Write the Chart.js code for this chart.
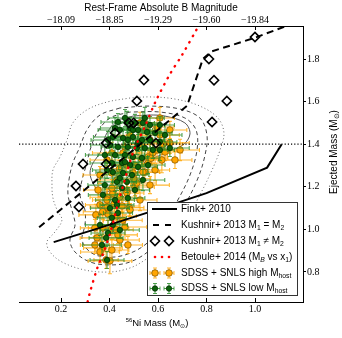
<!DOCTYPE html>
<html><head><meta charset="utf-8">
<script src="https://cdn.jsdelivr.net/npm/chart.js@4.4.1/dist/chart.umd.min.js"></script>
<style>html,body{margin:0;padding:0;background:#fff;}#wrap{width:342px;height:338px;}</style>
</head><body><div id="wrap"><canvas id="c" width="342" height="338"></canvas></div>
<script>
// ---- axis ticks / labels ----
const niTicks = [0.2, 0.4, 0.6, 0.8, 1.0];
const magTickLabels = ['\u221218.09', '\u221218.85', '\u221219.29', '\u221219.60', '\u221219.84'];
const massTicks = [0.8, 1.0, 1.2, 1.4, 1.6, 1.8];
const chandraMass = 1.4;

// ---- model curves ----
const finkNi  = [0.17, 0.34, 0.56, 0.80, 1.05, 1.11];
const finkMej = [0.94, 1.00, 1.08, 1.17, 1.29, 1.40];

const kushEqNi  = [0.11, 0.72, 0.785, 0.82, 1.00, 1.20];
const kushEqMej = [1.01, 1.58, 1.80, 1.835, 1.90, 1.985];

const kushNeqNi  = [0.542, 0.513, 0.810, 0.831, 0.884, 1.000, 0.823, 0.480, 0.500, 0.423, 0.386, 0.592, 0.291, 0.386, 0.262, 0.274];
const kushNeqMej = [1.701, 1.603, 1.800, 1.700, 1.603, 1.903, 1.504, 1.500, 1.500, 1.453, 1.405, 1.405, 1.307, 1.307, 1.204, 1.105];

const betouleNi  = [0.31, 0.32, 0.35, 0.375, 0.405, 0.435, 0.46, 0.50, 0.545, 0.59, 0.65, 0.70, 0.76, 0.78];
const betouleMej = [0.66, 0.706, 0.819, 0.89, 0.99, 1.12, 1.22, 1.37, 1.48, 1.60, 1.73, 1.82, 1.94, 1.98];

// ---- contours of the reconstructed distribution ----
const cOuterNi  = [0.485,0.390,0.307,0.249,0.225,0.196,0.167,0.163,0.167,0.184,0.204,0.175,0.142,0.155,0.204,0.299,0.402,0.485,0.546,0.629,0.711,0.773,0.823,0.856,0.872,0.847,0.773,0.670,0.567];
const cOuterMej = [1.617,1.598,1.561,1.500,1.420,1.340,1.279,1.208,1.147,1.091,1.044,0.988,0.941,0.894,0.847,0.809,0.800,0.819,0.856,0.927,1.035,1.162,1.279,1.373,1.453,1.523,1.579,1.612,1.622];
const cDash2Ni  = [0.443,0.361,0.307,0.278,0.249,0.233,0.229,0.245,0.258,0.237,0.258,0.320,0.402,0.485,0.567,0.649,0.711,0.765,0.794,0.802,0.773,0.691,0.567];
const cDash2Mej = [1.570,1.537,1.467,1.387,1.312,1.232,1.162,1.091,1.021,0.950,0.894,0.847,0.833,0.847,0.903,1.007,1.115,1.241,1.349,1.443,1.523,1.565,1.579];
const cDash1Ni  = [0.485,0.402,0.348,0.320,0.307,0.287,0.278,0.299,0.299,0.287,0.320,0.381,0.464,0.546,0.621,0.682,0.732,0.761,0.757,0.711,0.608];
const cDash1Mej = [1.551,1.523,1.453,1.373,1.312,1.232,1.162,1.091,1.021,0.950,0.894,0.870,0.880,0.927,1.021,1.138,1.255,1.373,1.467,1.523,1.551];
const cInnerNi  = [0.497,0.431,0.390,0.373,0.361,0.332,0.320,0.332,0.361,0.410,0.464,0.526,0.629,0.703,0.732,0.711,0.629,0.567];
const cInnerMej = [1.532,1.509,1.453,1.406,1.359,1.312,1.265,1.218,1.176,1.185,1.232,1.302,1.359,1.396,1.448,1.500,1.532,1.537];

// ---- SDSS + SNLS, high host mass ----
const highNi  = [0.390,0.394,0.431,0.452,0.472,0.505,0.410,0.464,0.373,0.349,0.340,0.373,0.361,0.386,0.402,0.390,0.414,0.410,0.513,0.546,0.559,0.559,0.579,0.596,0.390,0.431,0.410,0.390,0.410,0.464,0.497,0.472,0.649,0.629,0.616,0.538,0.505,0.596,0.526,0.456,0.608,0.567,0.420,0.442,0.372,0.482,0.428,0.455,0.500,0.532,0.470,0.441,0.522,0.571,0.622,0.484,0.551,
                 0.361,0.344,0.443,0.340,0.485,0.526,0.567,0.588,0.670,0.691,0.649,0.608,0.361,0.353,0.435,0.410,0.476];
const highMej = [1.151,1.072,1.063,1.110,1.180,1.199,1.002,1.011,1.006,0.960,0.927,0.913,0.894,0.856,0.852,1.105,1.170,1.194,1.218,1.269,1.312,1.340,1.359,1.373,1.138,1.232,1.265,1.326,1.359,1.387,1.265,1.171,1.406,1.363,1.326,1.269,1.302,1.481,1.500,1.359,1.443,1.420,1.121,1.152,1.083,1.102,0.998,1.043,1.238,1.331,1.302,1.284,1.398,1.334,1.401,1.442,1.463,
                 1.115,1.068,0.950,1.007,1.091,1.138,1.208,1.279,1.326,1.373,1.467,1.523,1.255,1.185,0.974,0.903,0.927];
const highErrNi  = [0.07,0.06,0.08,0.07,0.05,0.08,0.07,0.09,0.06,0.07,0.06,0.08,0.08,0.05,0.09,0.07,0.06,0.07,0.08,0.06,0.06,0.08,0.07,0.09,0.06,0.07,0.05,0.07,0.08,0.07,0.06,0.07,0.08,0.07,0.06,0.07,0.09,0.07,0.06,0.07,0.08,0.07,0.06,0.07,0.08,0.06,0.07,0.08,0.07,0.05,0.07,0.08,0.06,0.07,0.08,0.07,0.06,
                    0.06,0.07,0.08,0.06,0.09,0.07,0.08,0.06,0.07,0.08,0.07,0.06,0.07,0.06,0.08,0.07,0.06];
const highErrMej = [0.04,0.05,0.04,0.03,0.05,0.04,0.05,0.06,0.04,0.05,0.04,0.03,0.05,0.04,0.06,0.04,0.05,0.04,0.05,0.04,0.03,0.04,0.05,0.04,0.05,0.04,0.05,0.03,0.05,0.04,0.05,0.04,0.05,0.04,0.06,0.04,0.05,0.04,0.05,0.04,0.05,0.04,0.05,0.04,0.03,0.04,0.05,0.04,0.05,0.04,0.05,0.04,0.05,0.03,0.05,0.04,0.05,
                    0.04,0.05,0.05,0.04,0.03,0.05,0.04,0.05,0.04,0.05,0.04,0.05,0.04,0.05,0.04,0.05,0.04];

// ---- SDSS + SNLS, low host mass ----
const lowNi  = [0.435,0.472,0.505,0.538,0.567,0.443,0.485,0.518,0.555,0.588,0.414,0.456,0.497,0.534,0.567,0.608,0.402,0.435,0.476,0.513,0.546,0.579,0.423,0.464,0.497,0.534,0.410,0.452,0.485,0.518,0.414,0.456,0.493,0.431,0.472,0.452,0.373,0.402,0.431,0.414,0.394,0.369,0.390,0.435,
                0.464,0.546,0.608,0.629,0.649,0.608,0.559,0.538,0.505,0.476,0.423,0.381,0.390,0.381,0.394,0.423,0.497,0.476,0.518,0.464,0.443,0.410,0.386,0.361,0.443];
const lowMej = [1.504,1.504,1.500,1.500,1.490,1.467,1.476,1.467,1.457,1.453,1.434,1.429,1.434,1.420,1.420,1.410,1.396,1.387,1.387,1.382,1.382,1.373,1.349,1.349,1.340,1.335,1.312,1.312,1.302,1.293,1.269,1.265,1.255,1.223,1.223,1.194,1.162,1.100,1.115,1.021,0.983,0.927,0.856,1.077,
                1.523,1.523,1.490,1.443,1.382,1.373,1.302,1.232,1.185,1.147,1.138,1.208,1.279,1.349,1.420,1.476,1.467,1.420,1.406,1.316,1.241,1.054,0.960,1.021,0.997];
const lowErrNi  = [0.07,0.06,0.08,0.07,0.06,0.09,0.07,0.06,0.08,0.07,0.08,0.06,0.07,0.09,0.06,0.07,0.08,0.07,0.06,0.07,0.08,0.06,0.07,0.08,0.06,0.07,0.09,0.07,0.06,0.08,0.07,0.06,0.07,0.08,0.06,0.07,0.06,0.08,0.07,0.06,0.07,0.08,0.07,0.06,
                   0.07,0.08,0.06,0.07,0.08,0.06,0.07,0.09,0.06,0.07,0.08,0.07,0.06,0.08,0.07,0.06,0.07,0.08,0.06,0.07,0.08,0.06,0.07,0.06,0.08];
const lowErrMej = [0.04,0.05,0.04,0.05,0.04,0.03,0.05,0.04,0.05,0.04,0.05,0.04,0.03,0.05,0.04,0.05,0.04,0.05,0.04,0.03,0.05,0.04,0.05,0.04,0.05,0.04,0.05,0.04,0.05,0.04,0.05,0.04,0.05,0.04,0.05,0.04,0.05,0.04,0.05,0.04,0.06,0.05,0.04,0.05,
                   0.04,0.05,0.04,0.05,0.04,0.05,0.04,0.05,0.04,0.05,0.04,0.05,0.04,0.05,0.04,0.05,0.04,0.05,0.04,0.05,0.04,0.05,0.04,0.05,0.04];

const legendLabels = [
  [['Fink+ 2010']],
  [['Kushnir+ 2013 M'], ['1','sub'], [' = M'], ['2','sub']],
  [['Kushnir+ 2013 M'], ['1','sub'], [' \u2260 M'], ['2','sub']],
  [['Betoule+ 2014 (M'], ['B','subi'], [' vs x'], ['1','sub'], [')']],
  [['SDSS + SNLS high M'], ['host','sub']],
  [['SDSS + SNLS low M'], ['host','sub']]
];

// axis limits
const xMin = 0.027, xMax = 1.198, yMin = 0.659, yMax = 1.955;

function pts(xs, ys){ return xs.map((v,i)=>({x:v, y:ys[i]})); }
function closed(xs, ys){ const p = pts(xs, ys); p.push({x:xs[0], y:ys[0]}); return p; }

const SANS = '"Liberation Sans", Arial, sans-serif';
const SERIF = '"Liberation Serif", "Times New Roman", serif';
const ORANGE = '#FFA500', ORANGE_EDGE = '#8a5a00', ORANGE_ERR = 'rgba(255,165,0,0.8)';
const GREEN = '#0b620b', GREEN_EDGE = '#033003', GREEN_ERR = 'rgba(40,140,40,0.8)';

function drawRich(ctx, segs, x, y, size, align){
  const fontFor = (st) => st==='sub' ? (size*0.68)+'px '+SANS : st==='subi' ? 'italic '+(size*0.68)+'px '+SANS : st==='sup' ? (size*0.62)+'px '+SANS : size+'px '+SANS;
  let total = 0;
  segs.forEach(([t, st]) => { ctx.font = fontFor(st); total += ctx.measureText(t).width; });
  let cx = align === 'center' ? x - total/2 : x;
  ctx.textAlign = 'left'; ctx.textBaseline = 'middle';
  segs.forEach(([t, st]) => {
    ctx.font = fontFor(st);
    const dy = (st==='sub'||st==='subi') ? size*0.3 : st==='sup' ? -size*0.32 : 0;
    ctx.fillText(t, cx, y + dy);
    cx += ctx.measureText(t).width;
  });
}

const errorBars = {
  id: 'errorBars',
  beforeDatasetDraw(chart, args){
    const ds = chart.data.datasets[args.index];
    if (!ds.errX) return;
    const xs = chart.scales.x, ys = chart.scales.y, ctx = chart.ctx, ca = chart.chartArea;
    ctx.save();
    ctx.beginPath(); ctx.rect(ca.left, ca.top, ca.right-ca.left, ca.bottom-ca.top); ctx.clip();
    ctx.strokeStyle = ds.errColor; ctx.lineWidth = 1.1;
    ds.data.forEach((p, i) => {
      const px = xs.getPixelForValue(p.x), py = ys.getPixelForValue(p.y);
      const x0 = xs.getPixelForValue(p.x - ds.errX[i]), x1 = xs.getPixelForValue(p.x + ds.errX[i]);
      const y0 = ys.getPixelForValue(p.y - ds.errY[i]), y1 = ys.getPixelForValue(p.y + ds.errY[i]);
      const c = 2;
      ctx.beginPath();
      ctx.moveTo(x0, py); ctx.lineTo(x1, py);
      ctx.moveTo(px, y0); ctx.lineTo(px, y1);
      ctx.moveTo(x0, py-c); ctx.lineTo(x0, py+c);
      ctx.moveTo(x1, py-c); ctx.lineTo(x1, py+c);
      ctx.moveTo(px-c, y0); ctx.lineTo(px+c, y0);
      ctx.moveTo(px-c, y1); ctx.lineTo(px+c, y1);
      ctx.stroke();
    });
    ctx.restore();
  }
};

const decorations = {
  id: 'decorations',
  afterDraw(chart){
    const ctx = chart.ctx, ca = chart.chartArea, xs = chart.scales.x;
    ctx.save();
    ctx.strokeStyle = '#000'; ctx.lineWidth = 1;
    niTicks.forEach(v => {
      const px = Math.round(xs.getPixelForValue(v)) + 0.5;
      ctx.beginPath();
      ctx.moveTo(px, ca.top); ctx.lineTo(px, ca.top + 4);
      ctx.moveTo(px, ca.bottom); ctx.lineTo(px, ca.bottom - 4);
      ctx.stroke();
    });
    ctx.fillStyle = '#000';
    drawRich(ctx, [['56','sup'], ['Ni Mass (M'], ['\u2299','sub'], [')']], 157, 323, 9.5, 'center');
    ctx.save();
    ctx.translate(334, 152); ctx.rotate(-Math.PI/2);
    drawRich(ctx, [['Ejected Mass (M'], ['\u2299','sub'], [')']], 0, 0, 10, 'center');
    ctx.restore();

    const bx = 147, by = 202, bw = 150, bh = 93;
    ctx.fillStyle = '#fff'; ctx.fillRect(bx, by, bw, bh);
    ctx.strokeStyle = '#333'; ctx.lineWidth = 1; ctx.strokeRect(bx + 0.5, by + 0.5, bw, bh);
    const rows = [209, 225, 241, 257, 273, 288.5];
    const hx0 = 152, hx1 = 177, m1 = 155, m2 = 169;
    rows.forEach((y, i) => {
      ctx.save();
      if (i === 0 || i === 1) {
        ctx.strokeStyle = '#000'; ctx.lineWidth = 2;
        ctx.setLineDash(i === 1 ? [6, 6] : []);
        ctx.beginPath(); ctx.moveTo(hx0 + (i===1?1:0), y); ctx.lineTo(hx1, y); ctx.stroke();
      } else if (i === 2) {
        ctx.strokeStyle = '#000'; ctx.lineWidth = 1.6;
        [m1, m2].forEach(mx => { ctx.beginPath(); ctx.moveTo(mx, y-4.5); ctx.lineTo(mx+4.5, y); ctx.lineTo(mx, y+4.5); ctx.lineTo(mx-4.5, y); ctx.closePath(); ctx.stroke(); });
      } else if (i === 3) {
        ctx.fillStyle = '#f00';
        [m1, 162, m2].forEach(mx => { ctx.beginPath(); ctx.arc(mx, y, 1.3, 0, Math.PI*2); ctx.fill(); });
      } else {
        const fill = i === 4 ? ORANGE : GREEN, edge = i === 4 ? ORANGE_EDGE : GREEN_EDGE, err = i === 4 ? ORANGE_ERR : GREEN_ERR;
        const r = i === 4 ? 3.3 : 2.7;
        [m1, m2].forEach(mx => {
          ctx.strokeStyle = err; ctx.lineWidth = 1;
          ctx.beginPath();
          ctx.moveTo(mx-5, y); ctx.lineTo(mx+5, y); ctx.moveTo(mx, y-5); ctx.lineTo(mx, y+5);
          ctx.moveTo(mx-5, y-2); ctx.lineTo(mx-5, y+2); ctx.moveTo(mx+5, y-2); ctx.lineTo(mx+5, y+2);
          ctx.moveTo(mx-2, y-5); ctx.lineTo(mx+2, y-5); ctx.moveTo(mx-2, y+5); ctx.lineTo(mx+2, y+5);
          ctx.stroke();
          ctx.fillStyle = fill; ctx.strokeStyle = edge; ctx.lineWidth = 0.8;
          ctx.beginPath(); ctx.arc(mx, y, r, 0, Math.PI*2); ctx.fill(); ctx.stroke();
        });
      }
      ctx.restore();
      ctx.fillStyle = '#000';
      drawRich(ctx, legendLabels[i], 181, y, 10, 'left');
    });
    ctx.restore();
  }
};

const contourStyle = (data, dash, color) => ({
  data, showLine: true, pointRadius: 0, borderColor: color, borderWidth: 1,
  borderDash: dash, tension: 0.35, fill: false
});

const ctx = document.getElementById('c').getContext('2d');
new Chart(ctx, {
  type: 'scatter',
  data: {
    datasets: [
      Object.assign(contourStyle(closed(cOuterNi, cOuterMej), [1, 2.5], '#666'), {order: 13}),
      Object.assign(contourStyle(closed(cDash2Ni, cDash2Mej), [4, 3], '#444'), {order: 12}),
      Object.assign(contourStyle(closed(cDash1Ni, cDash1Mej), [4, 3], '#444'), {order: 11}),
      Object.assign(contourStyle(closed(cInnerNi, cInnerMej), [], '#555'), {order: 10}),
      { label: 'SDSS + SNLS high Mhost', data: pts(highNi, highMej), errX: highErrNi, errY: highErrMej, errColor: ORANGE_ERR,
        pointRadius: 3.3, pointBackgroundColor: ORANGE, pointBorderColor: ORANGE_EDGE, pointBorderWidth: 0.8, order: 9 },
      { label: 'SDSS + SNLS low Mhost', data: pts(lowNi, lowMej), errX: lowErrNi, errY: lowErrMej, errColor: GREEN_ERR,
        pointRadius: 2.7, pointBackgroundColor: GREEN, pointBorderColor: GREEN_EDGE, pointBorderWidth: 0.8, order: 8 },
      { label: 'Chandrasekhar', data: [{x: xMin, y: chandraMass}, {x: xMax, y: chandraMass}], showLine: true, pointRadius: 0,
        borderColor: '#000', borderWidth: 1.2, borderDash: [1.2, 2], order: 5 },
      { label: 'Fink+ 2010', data: pts(finkNi, finkMej), showLine: true, pointRadius: 0, borderColor: '#000', borderWidth: 2, order: 4 },
      { label: 'Kushnir+ 2013 M1 = M2', data: pts(kushEqNi, kushEqMej), showLine: true, pointRadius: 0, borderColor: '#000', borderWidth: 2, borderDash: [7, 4.5], order: 3 },
      { label: 'Betoule+ 2014', data: pts(betouleNi, betouleMej), showLine: true, pointRadius: 0, borderColor: '#f00', borderWidth: 2.4,
        borderDash: [0.5, 6.5], borderCapStyle: 'round', tension: 0.3, order: 2 },
      { label: 'Kushnir+ 2013 M1 != M2', data: pts(kushNeqNi, kushNeqMej), pointStyle: 'rectRot', pointRadius: 4.6,
        pointBackgroundColor: 'rgba(0,0,0,0)', pointBorderColor: '#000', pointBorderWidth: 1.6, order: 1 }
    ]
  },
  options: {
    responsive: false, animation: false, devicePixelRatio: 1,
    layout: { padding: { left: 19, right: 0, top: 0, bottom: 0 } },
    plugins: { legend: { display: false }, tooltip: { enabled: false } },
    scales: {
      x: {
        type: 'linear', position: 'bottom', min: xMin, max: xMax,
        afterBuildTicks: s => { s.ticks = niTicks.map(v => ({ value: v })); },
        afterFit: s => { s.height = 36; },
        grid: { drawOnChartArea: false, drawTicks: false },
        border: { display: true, color: '#000', width: 1 },
        ticks: { padding: 1, color: '#000', font: { family: SERIF, size: 10 }, callback: v => Number(v).toFixed(1), maxRotation: 0 }
      },
      x2: {
        type: 'linear', position: 'top', min: xMin, max: xMax,
        afterBuildTicks: s => { s.ticks = niTicks.map(v => ({ value: v })); },
        afterFit: s => { s.height = 26; },
        grid: { drawOnChartArea: false, drawTicks: false },
        border: { display: true, color: '#000', width: 1 },
        title: { display: true, text: 'Rest-Frame Absolute B Magnitude', color: '#000', font: { family: SANS, size: 10 }, padding: { top: 2, bottom: 0 } },
        ticks: { padding: 0, color: '#000', font: { family: SERIF, size: 10 }, callback: (v, i) => magTickLabels[i], maxRotation: 0 }
      },
      y: {
        type: 'linear', position: 'right', min: yMin, max: yMax,
        afterBuildTicks: s => { s.ticks = massTicks.map(v => ({ value: v })); },
        afterFit: s => { s.width = 39; },
        grid: { drawOnChartArea: false, drawTicks: true, tickLength: 3, color: '#000' },
        border: { display: true, color: '#000', width: 1 },
        ticks: { padding: 1, color: '#000', font: { family: SERIF, size: 10 }, callback: v => Number(v).toFixed(1) }
      }
    }
  },
  plugins: [errorBars, decorations]
});
</script>
</body></html>
